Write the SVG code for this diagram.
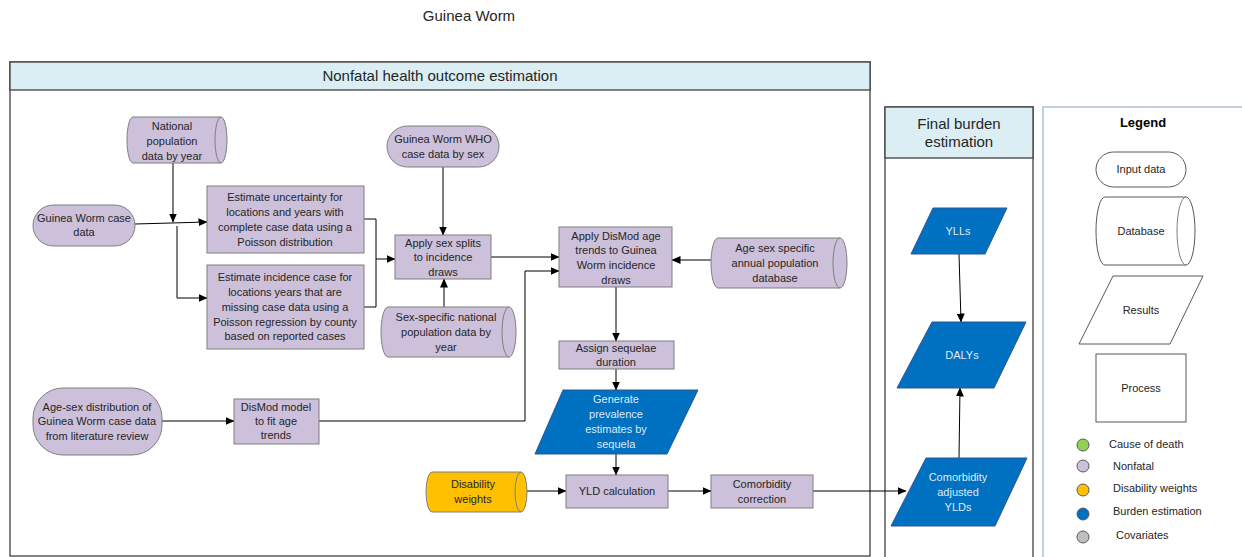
<svg xmlns="http://www.w3.org/2000/svg" width="1242" height="557" viewBox="0 0 1242 557">
<defs>
<marker id="ah" markerWidth="9" markerHeight="8" refX="8.5" refY="4" orient="auto" markerUnits="userSpaceOnUse">
<path d="M0,0 L9,4 L0,8 Z" fill="#000"/>
</marker>
<style>
.t{font-family:"Liberation Sans",Arial,sans-serif;font-size:11px;fill:#262626;text-anchor:middle}
.tw{font-family:"Liberation Sans",Arial,sans-serif;font-size:11px;fill:#DDEBF7;text-anchor:middle}
.h{font-family:"Liberation Sans",Arial,sans-serif;font-size:15px;fill:#262626;text-anchor:middle}
.lg{font-family:"Liberation Sans",Arial,sans-serif;font-size:11px;fill:#262626;text-anchor:start}
.nf{fill:#CCC0DA;stroke:#7F7F7F;stroke-width:1}
.bl{fill:#0070C0;stroke:#2F5597;stroke-width:1}
.yw{fill:#FFC000;stroke:#7F7F7F;stroke-width:1}
.wh{fill:#fff;stroke:#595959;stroke-width:1}
.ln{fill:none;stroke:#000;stroke-width:1}
.in{fill:none;stroke:#7F7F7F;stroke-width:1}
.fr{fill:#fff;stroke:#404040;stroke-width:1.3}
.hd{fill:#DAEEF3;stroke:#404040;stroke-width:1.3}
</style>
</defs>
<rect width="1242" height="557" fill="#fff"/>
<text class="h" x="469" y="21" font-size="16">Guinea Worm</text>

<g id="frame-nonfatal">
<rect class="fr" x="10" y="62" width="860" height="494"/>
<rect class="hd" x="10" y="62" width="860" height="28"/>
<text class="h" x="440" y="81" font-size="16">Nonfatal health outcome estimation</text>
</g>
<g id="frame-burden">
<rect class="fr" x="885" y="107" width="148" height="460"/>
<rect class="hd" x="885" y="107" width="148" height="51"/>
<text class="h" x="959" y="129">Final burden</text>
<text class="h" x="959" y="147">estimation</text>
</g>
<g id="frame-legend">
<rect x="1043" y="107" width="220" height="460" fill="#fff" stroke="#A6B8CC" stroke-width="1.3"/>
</g>

<g id="connectors">
<path class="ln" d="M173,163 V222" marker-end="url(#ah)"/>
<path class="ln" d="M135,224 L207,222" marker-end="url(#ah)"/>
<path class="ln" d="M177,226 V298 H207" marker-end="url(#ah)"/>
<path class="ln" d="M364,219 H376 V307 H364"/>
<path class="ln" d="M376,259 H395" marker-end="url(#ah)"/>
<path class="ln" d="M443,167 V235" marker-end="url(#ah)"/>
<path class="ln" d="M444,307 V279" marker-end="url(#ah)"/>
<path class="ln" d="M491,257 H559" marker-end="url(#ah)"/>
<path class="ln" d="M319,421 H525 V271 H559" marker-end="url(#ah)"/>
<path class="ln" d="M711,260 H672" marker-end="url(#ah)"/>
<path class="ln" d="M616,287 V341" marker-end="url(#ah)"/>
<path class="ln" d="M616,369 V390" marker-end="url(#ah)"/>
<path class="ln" d="M616,454 V475" marker-end="url(#ah)"/>
<path class="ln" d="M162,421 H234" marker-end="url(#ah)"/>
<path class="ln" d="M527,491 H566" marker-end="url(#ah)"/>
<path class="ln" d="M668,491 H711" marker-end="url(#ah)"/>
<path class="ln" d="M813,491 H906" marker-end="url(#ah)"/>
<path class="ln" d="M959,254 L961,322" marker-end="url(#ah)"/>
<path class="ln" d="M959,458 L960,388" marker-end="url(#ah)"/>
</g>

<g id="national-pop">
<path class="nf" d="M133,117 H221 A6,23 0 0 1 221,163 H133 A6,23 0 0 1 133,117 Z"/>
<path class="in" d="M221,117 A6,23 0 0 0 221,163"/>
<text class="t" x="172" y="130">National</text>
<text class="t" x="172" y="145">population</text>
<text class="t" x="172" y="160">data by year</text>
</g>
<g id="case-data">
<rect class="nf" x="33" y="205" width="102" height="41" rx="20.5"/>
<text class="t" x="84" y="222">Guinea Worm case</text>
<text class="t" x="84" y="236">data</text>
</g>
<g id="estimate-uncertainty">
<rect class="nf" x="207" y="186" width="157" height="67"/>
<text class="t" x="285" y="201">Estimate uncertainty for</text>
<text class="t" x="285" y="216">locations and years with</text>
<text class="t" x="285" y="231">complete case data using a</text>
<text class="t" x="285" y="246">Poisson distribution</text>
</g>
<g id="estimate-incidence">
<rect class="nf" x="207" y="265" width="157" height="84"/>
<text class="t" x="285" y="281">Estimate incidence case for</text>
<text class="t" x="285" y="296">locations years that are</text>
<text class="t" x="285" y="311">missing case data using a</text>
<text class="t" x="285" y="326">Poisson regression by county</text>
<text class="t" x="285" y="340">based on reported cases</text>
</g>
<g id="who-data">
<rect class="nf" x="387" y="126" width="112" height="41" rx="20.5"/>
<text class="t" x="443" y="143">Guinea Worm WHO</text>
<text class="t" x="443" y="158">case data by sex</text>
</g>
<g id="sex-splits">
<rect class="nf" x="395" y="235" width="96" height="44"/>
<text class="t" x="443" y="247">Apply sex splits</text>
<text class="t" x="443" y="261">to incidence</text>
<text class="t" x="443" y="276">draws</text>
</g>
<g id="sex-specific-pop">
<path class="nf" d="M388,307 H509 A7,25 0 0 1 509,357 H388 A7,25 0 0 1 388,307 Z"/>
<path class="in" d="M509,307 A7,25 0 0 0 509,357"/>
<text class="t" x="446" y="321">Sex-specific national</text>
<text class="t" x="446" y="336">population data by</text>
<text class="t" x="446" y="351">year</text>
</g>
<g id="apply-dismod">
<rect class="nf" x="559" y="227" width="113" height="60"/>
<text class="t" x="616" y="240">Apply DisMod age</text>
<text class="t" x="616" y="254">trends to Guinea</text>
<text class="t" x="616" y="269">Worm incidence</text>
<text class="t" x="616" y="284">draws</text>
</g>
<g id="age-sex-db">
<path class="nf" d="M718,238 H840 A7,25 0 0 1 840,288 H718 A7,25 0 0 1 718,238 Z"/>
<path class="in" d="M840,238 A7,25 0 0 0 840,288"/>
<text class="t" x="775" y="252">Age sex specific</text>
<text class="t" x="775" y="267">annual population</text>
<text class="t" x="775" y="282">database</text>
</g>
<g id="assign-sequelae">
<rect class="nf" x="559" y="341" width="115" height="28"/>
<text class="t" x="616" y="352">Assign sequelae</text>
<text class="t" x="616" y="366">duration</text>
</g>
<g id="generate-prevalence">
<polygon class="bl" points="563,390 698,390 667,454 535,454"/>
<text class="tw" x="616" y="403">Generate</text>
<text class="tw" x="616" y="418">prevalence</text>
<text class="tw" x="616" y="433">estimates by</text>
<text class="tw" x="616" y="448">sequela</text>
</g>
<g id="age-sex-distribution">
<rect class="nf" x="33" y="388" width="129" height="67" rx="30"/>
<text class="t" x="97" y="411">Age-sex distribution of</text>
<text class="t" x="97" y="425">Guinea Worm case data</text>
<text class="t" x="97" y="440">from literature review</text>
</g>
<g id="dismod-model">
<rect class="nf" x="234" y="399" width="85" height="45"/>
<text class="t" x="276" y="411">DisMod model</text>
<text class="t" x="276" y="425">to fit age</text>
<text class="t" x="276" y="439">trends</text>
</g>
<g id="disability-weights">
<path class="yw" d="M432,472 H521 A6,20 0 0 1 521,512 H432 A6,20 0 0 1 432,472 Z"/>
<path class="in" d="M521,472 A6,20 0 0 0 521,512"/>
<text class="t" x="473" y="488">Disability</text>
<text class="t" x="473" y="503">weights</text>
</g>
<g id="yld-calculation">
<rect class="nf" x="566" y="475" width="102" height="33"/>
<text class="t" x="617" y="495">YLD calculation</text>
</g>
<g id="comorbidity-correction">
<rect class="nf" x="711" y="475" width="102" height="33"/>
<text class="t" x="762" y="488">Comorbidity</text>
<text class="t" x="762" y="503">correction</text>
</g>
<g id="ylls">
<polygon class="bl" points="933,208 1007,208 985,254 911,254"/>
<text class="tw" x="958" y="235">YLLs</text>
</g>
<g id="dalys">
<polygon class="bl" points="932,322 1026,322 994,388 897,388"/>
<text class="tw" x="962" y="359">DALYs</text>
</g>
<g id="comorbidity-ylds">
<polygon class="bl" points="926,458 1027,458 995,526 891,526"/>
<text class="tw" x="958" y="481">Comorbidity</text>
<text class="tw" x="958" y="496">adjusted</text>
<text class="tw" x="958" y="511">YLDs</text>
</g>

<g id="legend">
<text x="1143" y="127" font-family="Liberation Sans, Arial, sans-serif" font-size="13" font-weight="bold" fill="#000" text-anchor="middle">Legend</text>
<g id="legend-input">
<rect class="wh" x="1096" y="152" width="90" height="35" rx="17.5"/>
<text class="t" x="1141" y="173">Input data</text>
</g>
<g id="legend-database">
<path class="wh" d="M1105,197 H1186 A9,34 0 0 1 1186,265 H1105 A9,34 0 0 1 1105,197 Z"/>
<path class="in" d="M1186,197 A9,34 0 0 0 1186,265" stroke="#595959"/>
<text class="t" x="1141" y="235">Database</text>
</g>
<g id="legend-results">
<polygon class="wh" points="1113,276 1203,276 1170,344 1079,344"/>
<text class="t" x="1141" y="314">Results</text>
</g>
<g id="legend-process">
<rect class="wh" x="1096" y="354" width="90" height="68"/>
<text class="t" x="1141" y="392">Process</text>
</g>
<circle cx="1083" cy="445" r="6" fill="#92D050" stroke="#595959"/>
<text class="lg" x="1109" y="448">Cause of death</text>
<circle cx="1083" cy="466" r="6" fill="#CCC0DA" stroke="#595959"/>
<text class="lg" x="1113" y="470">Nonfatal</text>
<circle cx="1083" cy="490" r="6" fill="#FFC000" stroke="#595959"/>
<text class="lg" x="1113" y="492">Disability weights</text>
<circle cx="1083" cy="514" r="6" fill="#0070C0" stroke="#595959"/>
<text class="lg" x="1113" y="515">Burden estimation</text>
<circle cx="1083" cy="537" r="6" fill="#BFBFBF" stroke="#595959"/>
<text class="lg" x="1116" y="539">Covariates</text>
</g>
</svg>
